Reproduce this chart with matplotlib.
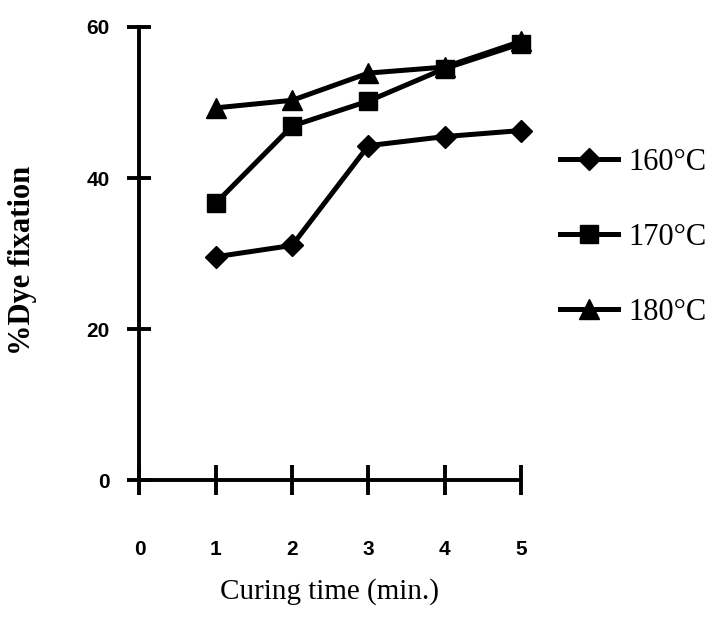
import matplotlib
matplotlib.use("Agg")
import matplotlib.pyplot as plt

# Data
curing_time = [1, 2, 3, 4, 5]
fix_160 = [29.6, 31.1, 44.3, 45.5, 46.3]
fix_170 = [36.7, 46.9, 50.2, 54.5, 57.8]
fix_180 = [49.3, 50.3, 53.9, 54.7, 58.1]
series_labels = ["160°C", "170°C", "180°C"]
x_ticks = [0, 1, 2, 3, 4, 5]
y_ticks = [0, 20, 40, 60]

fig = plt.figure(figsize=(7.15, 6.29), dpi=100)
ax = fig.add_axes([0.1951, 0.2361, 0.5336, 0.721])

lw = 3.6
h1, = ax.plot(curing_time, fix_160, color="black", lw=lw, marker="D", ms=11.5, clip_on=False)
h2, = ax.plot(curing_time, fix_170, color="black", lw=lw, marker="s", ms=13, clip_on=False)
h3, = ax.plot(curing_time, fix_180, color="black", lw=lw, marker="^", ms=14, clip_on=False)

ax.set_xlim(0, 5)
ax.set_ylim(0, 60)
for s in ["top", "right"]:
    ax.spines[s].set_visible(False)
for s in ["left", "bottom"]:
    ax.spines[s].set_linewidth(2.8)

ax.set_xticks(x_ticks)
ax.set_yticks(y_ticks)
ax.set_xticklabels([str(v) for v in x_ticks])
ax.set_yticklabels([str(v) for v in y_ticks])
ax.tick_params(axis="x", direction="inout", length=21, width=2.8, pad=32)
ax.tick_params(axis="y", direction="inout", length=17, width=2.8, pad=13)
for lab in ax.get_xticklabels() + ax.get_yticklabels():
    lab.set_fontfamily("Liberation Sans")
    lab.set_fontsize(15)
    lab.set_fontweight("bold")

fig.text(23 / 715, 1 - 260 / 629, "%Dye fixation", rotation=90, ha="center", va="center",
         fontfamily="Liberation Serif", fontweight="bold", fontsize=22)
fig.text(329 / 715, 1 - 592 / 629, "Curing time (min.)", ha="center", va="center",
         fontfamily="Liberation Serif", fontsize=21)

leg = fig.legend([h1, h2, h3], series_labels, loc="upper left",
                 bbox_to_anchor=(560 / 715, 1 - 148 / 629), frameon=False,
                 prop={"family": "Liberation Serif", "size": 22},
                 handlelength=1.9, handletextpad=0.33, labelspacing=1.5,
                 borderpad=0, borderaxespad=0)

fig.savefig("out.png", dpi=100)
